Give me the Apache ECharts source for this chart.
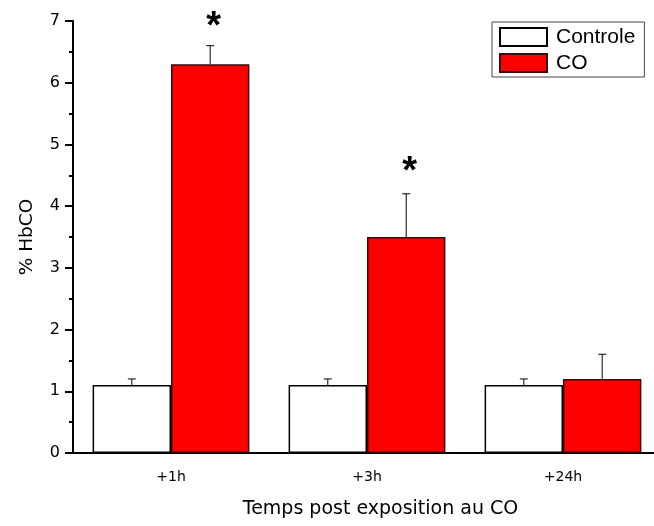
<!DOCTYPE html>
<html><head><meta charset="utf-8">
<script src="https://cdn.jsdelivr.net/npm/echarts@6/dist/echarts.min.js"></script>
<style>html,body{margin:0;padding:0;background:#fff}#c{width:654px;height:526px}</style>
</head><body><div id="c"></div>
<script>
const categories = ['+1h', '+3h', '+24h'];
const controleValues = [1.1, 1.1, 1.1];
const controleErrors = [0.1, 0.1, 0.1];
const coValues = [6.3, 3.5, 1.2];
const coErrors = [0.3, 0.7, 0.4];
// height (in % HbCO) at which a significance star is drawn, null = none
const coStars = [7.02, 4.68, null];
const yTicks = [0, 1, 2, 3, 4, 5, 6, 7];

const AXFONT = 'DejaVu Sans, sans-serif';
const LGFONT = 'Liberation Sans, Arial, sans-serif';
const chart = echarts.init(document.getElementById('c'), null, {renderer: 'canvas'});

function errorSeries(values, errors, side, stars) {
  return {
    type: 'custom',
    xAxisIndex: 0,
    z: 5,
    data: values.map((v, i) => [i, v, v + errors[i], stars && stars[i] != null ? stars[i] : -1]),
    renderItem: function (params, api) {
      const i = api.value(0);
      const band = api.size([1, 0])[0];
      const base = api.coord([i, api.value(1)]);
      const top = api.coord([i, api.value(2)]);
      const x = base[0] + side * band * 0.2;
      const cap = 4;
      const children = [
        {type: 'line', shape: {x1: x, y1: base[1], x2: x, y2: top[1]}, style: {stroke: '#000', lineWidth: 1}},
        {type: 'line', shape: {x1: x - cap, y1: top[1], x2: x + cap, y2: top[1]}, style: {stroke: '#000', lineWidth: 1}}
      ];
      const s = api.value(3);
      if (s >= 0) {
        const sp = api.coord([i, s]);
        children.push({type: 'text', style: {text: '*', x: x + 3.5, y: sp[1] + 8, fill: '#000',
          font: 'bold 38px ' + LGFONT, align: 'center', verticalAlign: 'middle'}});
      }
      return {type: 'group', children: children};
    }
  };
}

chart.setOption({
  animation: false,
  backgroundColor: '#fff',
  grid: {left: 73, top: 21, width: 588, height: 432, outerBoundsMode: 'none', containLabel: false},
  legend: {
    orient: 'vertical', left: 492, top: 22,
    icon: 'rect',
    itemWidth: 47, itemHeight: 18, itemGap: 5,
    padding: [4.5, 9, 3.5, 7],
    borderColor: '#444', borderWidth: 1,
    textStyle: {fontFamily: LGFONT, fontSize: 21, color: '#000', padding: [0, 0, 0, 4]},
    data: ['Controle', 'CO']
  },
  xAxis: [{
    type: 'category', data: categories,
    axisLine: {lineStyle: {color: '#000', width: 2}},
    axisTick: {alignWithLabel: true, length: 10, lineStyle: {width: 2, color: '#000'}},
    axisLabel: {fontFamily: AXFONT, fontSize: 14, color: '#000', margin: 17},
    name: 'Temps post exposition au CO', nameLocation: 'middle', nameGap: 47,
    nameTextStyle: {fontFamily: AXFONT, fontSize: 19, color: '#000', padding: [0, 0, 0, 27]}
  }, {
    type: 'category', data: categories, position: 'bottom',
    axisLine: {show: false},
    axisTick: {length: 5, lineStyle: {width: 2, color: '#000'}},
    axisLabel: {show: false}
  }],
  yAxis: {
    type: 'value', min: yTicks[0], max: yTicks[yTicks.length - 1], interval: 1,
    axisLine: {show: true, lineStyle: {color: '#000', width: 2}},
    axisTick: {show: true, length: 8, lineStyle: {width: 2, color: '#000'}},
    minorTick: {show: true, splitNumber: 2, length: 4, lineStyle: {width: 2, color: '#000'}},
    splitLine: {show: false},
    axisLabel: {fontFamily: AXFONT, fontSize: 16, color: '#000', margin: 13},
    name: '% HbCO', nameLocation: 'middle', nameGap: 36, nameRotate: 90,
    nameTextStyle: {fontFamily: AXFONT, fontSize: 18.5, color: '#000'}
  },
  series: [
    {name: 'Controle', type: 'bar', data: controleValues, barGap: '0%', barCategoryGap: '20%',
      itemStyle: {color: '#fff', borderColor: '#000', borderWidth: 1.5}},
    {name: 'CO', type: 'bar', data: coValues, barGap: '0%', barCategoryGap: '20%',
      itemStyle: {color: '#ff0000', borderColor: '#3a0a0a', borderWidth: 1.5}},
    errorSeries(controleValues, controleErrors, -1, null),
    errorSeries(coValues, coErrors, 1, coStars)
  ]
});
</script></body></html>
